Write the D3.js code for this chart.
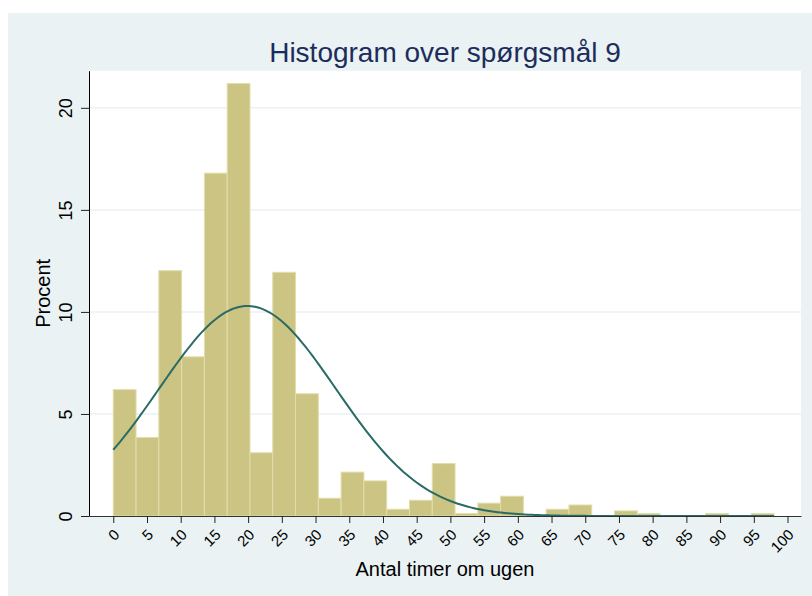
<!DOCTYPE html>
<html>
<head>
<meta charset="utf-8">
<script src="https://cdn.jsdelivr.net/npm/d3@7"></script>
<style>
  body { margin: 0; background: #fff; }
  svg { display: block; font-family: "Liberation Sans", Arial, sans-serif; }
</style>
</head>
<body>
<div id="chart"></div>
<script>
// histogram: 29 bins from 0 to 98 hours, percent in each bin
var binStart = 0, binEnd = 98;
var percent = [6.19, 3.85, 12.02, 7.80, 16.8, 21.19, 3.10, 11.94, 5.99, 0.87,
               2.15, 1.72, 0.33, 0.77, 2.57, 0.12, 0.63, 0.97, 0, 0.33,
               0.54, 0, 0.25, 0.12, 0, 0, 0.12, 0, 0.12];
// fitted normal curve (mean, sd)
var fitMean = 19.9, fitSd = 13.1;
var xTicks = d3.range(0, 101, 5);
var yTicks = [0, 5, 10, 15, 20];

var W = 812, H = 596;
var plotL = 89, plotR = 801, plotT = 70.7, plotB = 516;

var svg = d3.select("#chart").append("svg")
    .attr("width", W).attr("height", H);

// graph region + plot region
svg.append("rect").attr("x", 8).attr("y", 13)
    .attr("width", W - 8).attr("height", H - 13)
    .attr("fill", "#EAF2F3");
svg.append("rect").attr("x", plotL).attr("y", plotT)
    .attr("width", plotR - plotL).attr("height", plotB - plotT)
    .attr("fill", "#fff");

var x = d3.scaleLinear().domain([-3.6, 102]).range([plotL, plotR]);
var y = d3.scaleLinear().domain([0, 21.82]).range([plotB, plotT]);

// grid
svg.append("g").selectAll("line")
    .data(yTicks.filter(function(d){ return d > 0; }))
    .enter().append("line")
    .attr("x1", plotL).attr("x2", plotR)
    .attr("y1", function(d){ return y(d); })
    .attr("y2", function(d){ return y(d); })
    .attr("stroke", "#EAF2F3").attr("stroke-width", 1.5);

// bars
var bw = (binEnd - binStart) / percent.length;
svg.append("g").selectAll("rect")
    .data(percent)
    .enter().append("rect")
    .attr("x", function(d, i){ return x(binStart + i * bw); })
    .attr("width", function(d, i){ return x(binStart + (i + 1) * bw) - x(binStart + i * bw); })
    .attr("y", function(d){ return y(d); })
    .attr("height", function(d){ return plotB - y(d); })
    .attr("fill", function(d){ return d > 0 ? "#CCC483" : "none"; })
    .attr("stroke", function(d){ return d > 0 ? "#E2DDAB" : "none"; })
    .attr("stroke-width", 1);

// normal curve scaled to percent per bin
var curvePts = d3.range(binStart, binEnd + 0.001, 0.5).map(function(v){
    var z = (v - fitMean) / fitSd;
    return [v, 100 * bw * Math.exp(-0.5 * z * z) / (fitSd * Math.sqrt(2 * Math.PI))];
});
svg.append("path")
    .datum(curvePts)
    .attr("fill", "none")
    .attr("stroke", "#2A6B66")
    .attr("stroke-width", 2)
    .attr("d", d3.line()
        .x(function(d){ return x(d[0]); })
        .y(function(d){ return y(d[1]); }));

// x axis
var gx = svg.append("g")
    .attr("transform", "translate(0," + plotB + ")")
    .call(d3.axisBottom(x).tickValues(xTicks).tickSize(7).tickSizeOuter(0));
gx.select(".domain").attr("stroke", "#333");
gx.selectAll(".tick line").attr("stroke", "#222");
gx.selectAll(".tick text")
    .attr("font-size", 15)
    .attr("font-family", "Liberation Sans, Arial, sans-serif")
    .attr("fill", "#000")
    .attr("text-anchor", "end")
    .attr("y", 0).attr("dy", "0.35em")
    .attr("transform", "translate(3,16) rotate(-45)");

// y axis
var gy = svg.append("g")
    .attr("transform", "translate(" + plotL + ",0)")
    .call(d3.axisLeft(y).tickValues(yTicks).tickSize(8).tickSizeOuter(0));
gy.select(".domain").attr("stroke", "#000");
gy.selectAll(".tick line").attr("stroke", "#222");
gy.selectAll(".tick text")
    .attr("font-size", 18)
    .attr("font-family", "Liberation Sans, Arial, sans-serif")
    .attr("fill", "#000")
    .attr("text-anchor", "middle")
    .attr("x", 0).attr("dy", 0)
    .attr("transform", "translate(-17,0) rotate(-90)");

// titles
svg.append("text")
    .attr("x", (plotL + plotR) / 2).attr("y", 61.5)
    .attr("text-anchor", "middle")
    .attr("font-size", 28)
    .attr("fill", "#1C2D5C")
    .text("Histogram over spørgsmål 9");

svg.append("text")
    .attr("x", (plotL + plotR) / 2).attr("y", 576)
    .attr("text-anchor", "middle")
    .attr("font-size", 20)
    .attr("fill", "#000")
    .text("Antal timer om ugen");

svg.append("text")
    .attr("transform", "translate(50," + ((plotT + plotB) / 2) + ") rotate(-90)")
    .attr("text-anchor", "middle")
    .attr("font-size", 20)
    .attr("fill", "#000")
    .text("Procent");
</script>
</body>
</html>
